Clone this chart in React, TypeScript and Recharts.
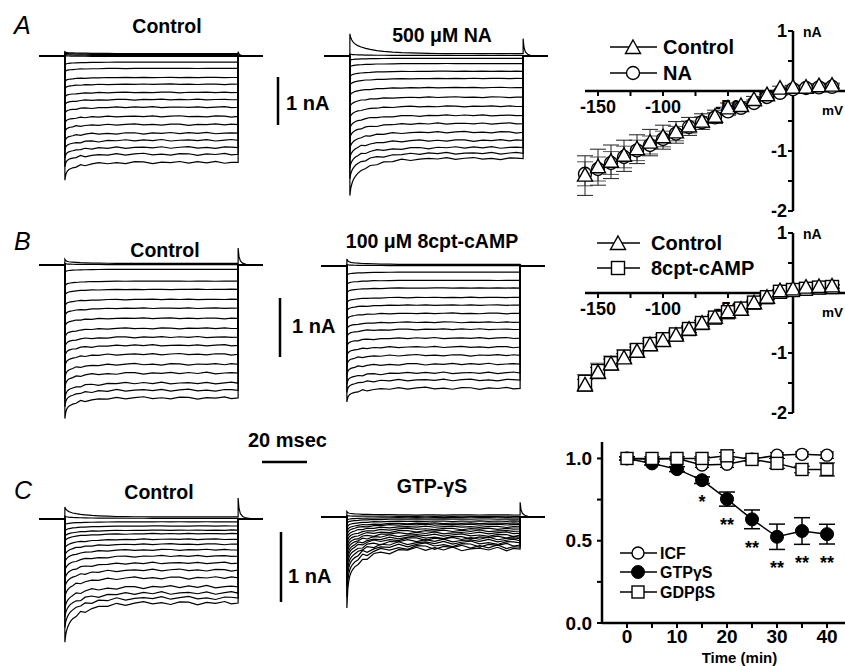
import React from 'react';
import { LineChart, Line, XAxis, YAxis, ErrorBar, ReferenceLine, ReferenceDot, LabelList } from 'recharts';

const FONT = 'Arial, "Liberation Sans", Helvetica, sans-serif';

// ---------- whole-cell current traces (nA, inward negative) ----------
// sample times during the voltage step (ms after onset)
const pulseTimes = [0, 0.4, 0.8, 1.2, 1.8, 2.5, 3.5, 5, 7, 9, 12, 15, 19, 23, 27, 31, 35, 39, 43, 47, 51, 55, 59, 63, 67, 71, 74, 77];
// relaxation from onset peak to steady level
const decayFast = [1, 0.68, 0.55, 0.47, 0.4, 0.35, 0.3, 0.24, 0.18, 0.14, 0.1, 0.07, 0.04, 0.02, 0.01, 0, 0, 0, 0, 0, 0, 0, 0, 0, 0, 0, 0, 0];
const decaySlow = [1, 0.8, 0.7, 0.62, 0.54, 0.47, 0.4, 0.33, 0.26, 0.21, 0.15, 0.11, 0.07, 0.045, 0.03, 0.02, 0.01, 0, 0, 0, 0, 0, 0, 0, 0, 0, 0, 0];
// recording noise (relative), applied after the first 5 ms
const traceRipple = [0.3, -0.2, 0.5, -0.4, 0.2, 0.6, -0.3, 0.1, -0.5, 0.4, 0.3, -0.6, 0.2, -0.1, 0.5, -0.3, 0.4, -0.2, 0.6, -0.4, 0.1];
// capacitive tail at the end of the step
const tailTimes = [77, 77.4, 78, 79, 80.5, 82.5, 85, 88];
const tailShape = [1, 0.5, 0.25, 0.12, 0.05, 0.02, 0, 0];

const aCtrlSteady = [0.06, 0.04, 0.02, 0, -0.12, -0.25, -0.44, -0.58, -0.75, -0.9, -1.06, -1.25, -1.42, -1.6, -1.75, -1.9, -2.04, -2.21];
const aCtrlPeak = [0.1, 0.08, 0.05, 0.02, -0.18, -0.33, -0.53, -0.68, -0.86, -1.02, -1.2, -1.4, -1.58, -1.78, -1.95, -2.12, -2.3, -2.58];
const aNaSteady = [0.06, 0.02, -0.04, -0.15, -0.31, -0.46, -0.65, -0.85, -1.04, -1.23, -1.4, -1.58, -1.75, -1.9, -2.02, -2.13];
const aNaPeak = [0.47, 0.05, -0.08, -0.22, -0.42, -0.6, -0.82, -1.05, -1.28, -1.5, -1.7, -1.92, -2.12, -2.32, -2.55, -2.9];
const bCtrlSteady = [0.03, 0.01, -0.07, -0.27, -0.41, -0.58, -0.73, -0.9, -1.07, -1.22, -1.36, -1.51, -1.68, -1.83, -2.0, -2.12, -2.25];
const bCtrlPeak = [0.1, 0.03, -0.12, -0.36, -0.52, -0.7, -0.87, -1.05, -1.24, -1.4, -1.56, -1.73, -1.92, -2.08, -2.27, -2.4, -2.6];
const bCampSteady = [0.03, 0.01, -0.1, -0.24, -0.37, -0.53, -0.66, -0.8, -0.95, -1.07, -1.22, -1.37, -1.51, -1.66, -1.81, -1.93, -2.07];
const bCampPeak = [0.12, 0.03, -0.16, -0.32, -0.46, -0.63, -0.77, -0.92, -1.08, -1.21, -1.37, -1.53, -1.68, -1.84, -2.0, -2.14, -2.3];
const cCtrlSteady = [0.03, 0.01, -0.04, -0.1, -0.16, -0.21, -0.29, -0.36, -0.44, -0.53, -0.63, -0.73, -0.84, -0.97, -1.06, -1.13, -1.2];
const cCtrlPeak = [0.17, 0.04, -0.08, -0.17, -0.25, -0.32, -0.42, -0.52, -0.62, -0.74, -0.86, -0.98, -1.12, -1.28, -1.4, -1.55, -1.76];
const cGtpSteady = [0.03, 0.01, -0.01, -0.03, -0.06, -0.09, -0.11, -0.14, -0.17, -0.2, -0.23, -0.26, -0.29, -0.31, -0.34, -0.37, -0.4, -0.43, -0.46];
const cGtpPeak = [0.08, 0.02, -0.05, -0.1, -0.16, -0.22, -0.28, -0.34, -0.4, -0.46, -0.52, -0.58, -0.65, -0.72, -0.8, -0.9, -1.0, -1.14, -1.3];

// ---------- I-V relations ----------
const ivVoltages = [-160, -150, -140, -130, -120, -110, -100, -90, -80, -70, -60, -50, -40, -30, -20, -10, 0, 10, 20, 30];
const ivACtrl = [-1.41, -1.27, -1.18, -1.08, -0.97, -0.86, -0.77, -0.69, -0.59, -0.51, -0.43, -0.29, -0.25, -0.15, -0.07, 0.04, 0.055, 0.055, 0.08, 0.09];
const ivACtrlErr = [0.33, 0.3, 0.28, 0.26, 0.24, 0.22, 0.2, 0.18, 0.15, 0.13, 0.11, 0.09, 0.07, 0.06, 0.05, 0.04, 0.04, 0.04, 0.04, 0.04];
const ivANa = [-1.38, -1.3, -1.2, -1.1, -0.99, -0.9, -0.8, -0.71, -0.6, -0.52, -0.44, -0.34, -0.28, -0.2, -0.1, -0.03, 0.03, 0.05, 0.06, 0.07];
const ivANaErr = [0.2, 0.2, 0.19, 0.18, 0.17, 0.15, 0.13, 0.12, 0.1, 0.09, 0.08, 0.07, 0.06, 0.05, 0.04, 0.04, 0.03, 0.03, 0.03, 0.03];
const ivBCtrl = [-1.54, -1.33, -1.19, -1.09, -0.98, -0.87, -0.8, -0.71, -0.61, -0.51, -0.41, -0.32, -0.28, -0.17, -0.08, 0.03, 0.06, 0.09, 0.1, 0.11];
const ivBCtrlErr = [0.1, 0.09, 0.09, 0.08, 0.08, 0.07, 0.07, 0.06, 0.05, 0.05, 0.04, 0.04, 0.04, 0.03, 0.03, 0.03, 0.03, 0.03, 0.03, 0.03];
const ivBCamp = [-1.48, -1.3, -1.17, -1.06, -0.95, -0.85, -0.77, -0.69, -0.6, -0.5, -0.41, -0.32, -0.26, -0.16, -0.07, 0.02, 0.05, 0.07, 0.09, 0.1];
const ivBCampErr = [0.12, 0.13, 0.12, 0.11, 0.1, 0.09, 0.08, 0.07, 0.06, 0.05, 0.05, 0.04, 0.04, 0.04, 0.03, 0.03, 0.03, 0.03, 0.03, 0.03];
const ivXTicks = [-150, -125, -100, -75, -50, -25];
const ivXLabels = [-150, -100, -50];
const ivYTicks = [1, 0.5, -0.5, -1, -1.5, -2];
const ivYLabels = [1, -1, -2];

// ---------- time course ----------
const timeMinutes = [0, 5, 10, 15, 20, 25, 30, 35, 40];
const icfValues = [1.0, 0.995, 1.0, 0.96, 0.965, 0.995, 1.02, 1.025, 1.02];
const icfErr = [0.01, 0.01, 0.01, 0.015, 0.02, 0.01, 0.015, 0.015, 0.02];
const gtpValues = [1.0, 0.97, 0.935, 0.868, 0.753, 0.63, 0.524, 0.559, 0.54];
const gtpErr = [0.01, 0.01, 0.015, 0.02, 0.043, 0.057, 0.077, 0.081, 0.06];
const gdpValues = [1.0, 1.0, 1.0, 1.0, 1.016, 0.994, 0.97, 0.933, 0.933];
const gdpErr = [0.01, 0.01, 0.01, 0.01, 0.02, 0.01, 0.03, 0.02, 0.04];
const gtpStars = ['', '', '', '*', '**', '**', '**', '**', '**'];
const timeXTicks = [0, 5, 10, 15, 20, 25, 30, 35, 40, 45];
const timeXLabels = [0, 10, 20, 30, 40];
const timeYTicks = [0, 0.25, 0.5, 0.75, 1.0];
const timeYLabels = [0, 0.5, 1.0];

type TraceSet = { steady: number[]; peak: number[]; decay: number[]; endSpike: number; noise: number };

function buildTraceRows(p: TraceSet) {
  const keys = p.steady.map((_, i) => `tr${i}`);
  const rows: Record<string, number>[] = [];
  const push = (t: number, f: (i: number) => number) => {
    const r: Record<string, number> = { t };
    keys.forEach((k, i) => (r[k] = f(i)));
    rows.push(r);
  };
  push(-11.5, () => 0);
  push(0, () => 0);
  pulseTimes.forEach((t, k) =>
    push(t, (i) => {
      const s = p.steady[i];
      let v = s + (p.peak[i] - s) * p.decay[k];
      if (k >= 7 && k < pulseTimes.length - 1) v += traceRipple[(k - 7 + 5 * i) % traceRipple.length] * p.noise * Math.abs(s);
      return v;
    })
  );
  tailTimes.forEach((t, k) => push(t, (i) => (i === 0 ? p.endSpike * tailShape[k] : 0)));
  return { rows, keys };
}

const PX_PER_MS = 2.25;

function TracePanel({ set, x, base, scale, lo }: { set: TraceSet; x: number; base: number; scale: number; lo: number }) {
  const { rows, keys } = buildTraceRows(set);
  const hi = 0.8;
  return (
    <div style={{ position: 'absolute', left: x, top: base - hi * scale }}>
      <LineChart width={99.5 * PX_PER_MS} height={(hi - lo) * scale} data={rows} margin={{ top: 0, right: 0, bottom: 0, left: 0 }}>
        <XAxis dataKey="t" type="number" domain={[-11.5, 88]} hide />
        <YAxis type="number" domain={[lo, hi]} hide />
        {keys.map((k) => (
          <Line key={k} dataKey={k} type="linear" stroke="#000" strokeWidth={1.2} dot={false} activeDot={false} isAnimationActive={false} />
        ))}
      </LineChart>
    </div>
  );
}

const triangle = (cx: number, cy: number, key?: any) => (
  <path key={key} d={`M${cx},${cy - 8} L${cx + 7.5},${cy + 5.5} L${cx - 7.5},${cy + 5.5} Z`} fill="#fff" stroke="#000" strokeWidth={1.4} />
);
const openCircle = (cx: number, cy: number, key?: any, r = 6.5) => (
  <circle key={key} cx={cx} cy={cy} r={r} fill="#fff" stroke="#000" strokeWidth={1.4} />
);
const filledCircle = (cx: number, cy: number, key?: any) => <circle key={key} cx={cx} cy={cy} r={6.5} fill="#000" stroke="#000" />;
const square = (cx: number, cy: number, key?: any, s = 13) => (
  <rect key={key} x={cx - s / 2} y={cy - s / 2} width={s} height={s} fill="#fff" stroke="#000" strokeWidth={1.4} />
);

const markers: Record<string, (cx: number, cy: number, key?: any) => React.ReactElement> = {
  triangle,
  circle: (cx, cy, key) => openCircle(cx, cy, key),
  square: (cx, cy, key) => square(cx, cy, key, 13),
};

function IvChart({ ctrl, ctrlErr, drug, drugErr, drugMarker, plotTop }: any) {
  const rows = ivVoltages.map((v, i) => ({ v, ctrl: ctrl[i], ctrlErr: ctrlErr[i], drug: drug[i], drugErr: drugErr[i] }));
  const mL = 15, mT = 15, mB = 15, plotW = 260, plotH = 180;
  const bold = { fontFamily: FONT, fontWeight: 700, fill: '#000' } as const;
  const drugDot = (p: any) => markers[drugMarker](p.cx, p.cy, `d${p.index}`);
  const ctrlDot = (p: any) => triangle(p.cx, p.cy, `c${p.index}`);
  return (
    <div style={{ position: 'absolute', left: 585 - mL, top: plotTop - mT }}>
      <LineChart width={plotW + mL} height={plotH + mT + mB} data={rows} margin={{ top: mT, right: 0, bottom: mB, left: mL }}>
        <XAxis dataKey="v" type="number" domain={[-160, 40]} hide />
        <YAxis type="number" domain={[-2, 1]} hide />
        <ReferenceLine y={0} stroke="#000" strokeWidth={2.5} />
        <ReferenceLine x={0} stroke="#000" strokeWidth={2.5} />
        {ivXTicks.map((v) => (
          <ReferenceDot
            key={`xt${v}`}
            x={v}
            y={0}
            r={0}
            shape={(p: any) => (
              <g>
                <line x1={p.cx} y1={p.cy} x2={p.cx} y2={p.cy + 5} stroke="#000" strokeWidth={2} />
                {ivXLabels.includes(v) && (
                  <text x={p.cx} y={p.cy + 22} textAnchor="middle" fontSize={18} {...bold}>
                    {v}
                  </text>
                )}
              </g>
            )}
          />
        ))}
        {ivYTicks.map((v) => (
          <ReferenceDot
            key={`yt${v}`}
            x={0}
            y={v}
            r={0}
            shape={(p: any) => (
              <g>
                <line x1={p.cx - 5} y1={p.cy} x2={p.cx} y2={p.cy} stroke="#000" strokeWidth={2} />
                {ivYLabels.includes(v) && (
                  <text x={p.cx - 6} y={p.cy + 6} textAnchor="end" fontSize={18} {...bold}>
                    {v}
                  </text>
                )}
              </g>
            )}
          />
        ))}
        <ReferenceDot
          x={0}
          y={1}
          r={0}
          shape={(p: any) => (
            <text x={p.cx + 10} y={p.cy + 6} fontSize={14} {...bold}>
              nA
            </text>
          )}
        />
        <ReferenceDot
          x={30}
          y={0}
          r={0}
          shape={(p: any) => (
            <text x={p.cx - 10} y={p.cy + 24} fontSize={13.5} {...bold}>
              mV
            </text>
          )}
        />
        <Line dataKey="drug" type="linear" stroke="#000" strokeWidth={1.4} dot={drugDot} activeDot={false} isAnimationActive={false}>
          <ErrorBar dataKey="drugErr" direction="y" width={8} stroke="#555" strokeWidth={1} />
        </Line>
        <Line dataKey="ctrl" type="linear" stroke="#000" strokeWidth={1.4} dot={ctrlDot} activeDot={false} isAnimationActive={false}>
          <ErrorBar dataKey="ctrlErr" direction="y" width={8} stroke="#222" strokeWidth={1} />
        </Line>
      </LineChart>
    </div>
  );
}

function TimeChart() {
  const rows = timeMinutes.map((t, i) => ({
    t,
    icf: icfValues[i],
    icfErr: icfErr[i],
    gtp: gtpValues[i],
    gtpErr: gtpErr[i],
    gdp: gdpValues[i],
    gdpErr: gdpErr[i],
    starAnchor: gtpValues[i] - gtpErr[i],
    star: gtpStars[i],
  }));
  const tickStyle = { fontSize: 19, fontWeight: 700, fill: '#000', fontFamily: FONT };
  const axisLine = { stroke: '#000', strokeWidth: 2.5 };
  const tickLine = { stroke: '#000', strokeWidth: 2 };
  const renderStar = (p: any) =>
    p.value ? (
      <text x={p.x} y={p.y + 25} textAnchor="middle" fontSize={18} fontWeight={700} fontFamily={FONT} fill="#000">
        {p.value}
      </text>
    ) : null;
  return (
    <div style={{ position: 'absolute', left: 554, top: 437 }}>
      <LineChart width={323} height={229} data={rows} margin={{ top: 5, right: 0, bottom: 0, left: 0 }}>
        <XAxis
          dataKey="t"
          type="number"
          domain={[-5, 50]}
          ticks={timeXTicks}
          tickFormatter={(v: number) => (timeXLabels.includes(v) ? String(v) : '')}
          tick={tickStyle}
          tickSize={5}
          tickMargin={2}
          axisLine={axisLine}
          tickLine={tickLine}
          height={43}
          label={{ value: 'Time (min)', position: 'insideBottom', offset: 3, style: { fontSize: 15, fontWeight: 700, fill: '#000', fontFamily: FONT } }}
        />
        <YAxis
          type="number"
          domain={[0, 1.1]}
          ticks={timeYTicks}
          tickFormatter={(v: number) => (timeYLabels.includes(v) ? v.toFixed(1) : '')}
          tick={tickStyle}
          tickSize={5}
          tickMargin={5}
          axisLine={axisLine}
          tickLine={tickLine}
          width={48}
        />
        <Line dataKey="starAnchor" stroke="none" dot={false} activeDot={false} isAnimationActive={false}>
          <LabelList dataKey="star" content={renderStar} />
        </Line>
        <Line dataKey="gtp" type="linear" stroke="#000" strokeWidth={1.5} dot={(p: any) => filledCircle(p.cx, p.cy, `g${p.index}`)} activeDot={false} isAnimationActive={false}>
          <ErrorBar dataKey="gtpErr" direction="y" width={8} stroke="#000" strokeWidth={1.5} />
        </Line>
        <Line dataKey="icf" type="linear" stroke="#000" strokeWidth={1.5} dot={(p: any) => openCircle(p.cx, p.cy, `i${p.index}`, 6)} activeDot={false} isAnimationActive={false}>
          <ErrorBar dataKey="icfErr" direction="y" width={7} stroke="#000" strokeWidth={1} />
        </Line>
        <Line dataKey="gdp" type="linear" stroke="#000" strokeWidth={1.5} dot={(p: any) => square(p.cx, p.cy, `s${p.index}`, 12)} activeDot={false} isAnimationActive={false}>
          <ErrorBar dataKey="gdpErr" direction="y" width={8} stroke="#000" strokeWidth={1} />
        </Line>
      </LineChart>
    </div>
  );
}

function Overlay() {
  const b = { fontFamily: FONT, fontWeight: 700, fill: '#000' } as const;
  const letter = { fontFamily: FONT, fontStyle: 'italic', fontSize: 25, fill: '#000' } as const;
  const legendRow = (x1: number, x2: number, y: number, mark: React.ReactElement, text: string, tx: number, fs: number) => (
    <g>
      <line x1={x1} y1={y} x2={x2} y2={y} stroke="#000" strokeWidth={1.5} />
      {mark}
      <text x={tx} y={y + fs * 0.36} fontSize={fs} {...b}>
        {text}
      </text>
    </g>
  );
  return (
    <svg width={845} height={666} style={{ position: 'absolute', left: 0, top: 0 }}>
      <text x={14} y={34} {...letter}>A</text>
      <text x={14} y={250} {...letter}>B</text>
      <text x={14} y={499} {...letter}>C</text>

      <text x={167} y={33} textAnchor="middle" fontSize={19.5} {...b}>Control</text>
      <text x={442} y={42} textAnchor="middle" fontSize={19.5} {...b}>500 μM NA</text>
      <text x={165} y={257} textAnchor="middle" fontSize={19.5} {...b}>Control</text>
      <text x={432} y={248} textAnchor="middle" fontSize={19.5} {...b}>100 μM 8cpt-cAMP</text>
      <text x={159} y={499} textAnchor="middle" fontSize={19.5} {...b}>Control</text>
      <text x={432} y={493} textAnchor="middle" fontSize={19.5} {...b}>GTP-γS</text>

      <line x1={278} y1={77} x2={278} y2={125} stroke="#000" strokeWidth={2.5} />
      <text x={286} y={110} fontSize={20} {...b}>1 nA</text>
      <line x1={280} y1={298} x2={280} y2={357} stroke="#000" strokeWidth={2.5} />
      <text x={292} y={333} fontSize={20} {...b}>1 nA</text>
      <line x1={281} y1={532} x2={281} y2={602} stroke="#000" strokeWidth={2.5} />
      <text x={288} y={583} fontSize={20} {...b}>1 nA</text>
      <text x={248} y={447} fontSize={20} {...b}>20 msec</text>
      <line x1={262} y1={462} x2={307} y2={462} stroke="#000" strokeWidth={2.5} />

      {legendRow(610, 657, 47, triangle(633, 48), 'Control', 663, 20)}
      {legendRow(610, 657, 73, openCircle(633, 73), 'NA', 663, 20)}
      {legendRow(597, 640, 243, triangle(618, 244), 'Control', 651, 20)}
      {legendRow(597, 640, 268, square(618, 268), '8cpt-cAMP', 651, 20)}

      {legendRow(620, 657, 553, openCircle(638, 553, undefined, 6), 'ICF', 660, 16)}
      {legendRow(620, 657, 572, filledCircle(638, 572), 'GTPγS', 660, 16)}
      {legendRow(620, 657, 592, square(638, 592, undefined, 12), 'GDPβS', 660, 16)}
    </svg>
  );
}

export default function App() {
  return (
    <div style={{ position: 'absolute', left: 0, top: 0, width: 845, height: 666, overflow: 'hidden', background: '#fff' }}>
      <TracePanel set={{ steady: aCtrlSteady, peak: aCtrlPeak, decay: decayFast, endSpike: 0.1, noise: 0.018 }} x={39} base={56} scale={48} lo={-3} />
      <TracePanel set={{ steady: aNaSteady, peak: aNaPeak, decay: decaySlow, endSpike: 0.37, noise: 0.018 }} x={324} base={56} scale={48} lo={-3} />
      <TracePanel set={{ steady: bCtrlSteady, peak: bCtrlPeak, decay: decayFast, endSpike: 0.29, noise: 0.015 }} x={39} base={265} scale={59} lo={-2.8} />
      <TracePanel set={{ steady: bCampSteady, peak: bCampPeak, decay: decayFast, endSpike: 0.03, noise: 0.015 }} x={321} base={266} scale={59} lo={-2.8} />
      <TracePanel set={{ steady: cCtrlSteady, peak: cCtrlPeak, decay: decaySlow, endSpike: 0.3, noise: 0.035 }} x={39} base={519} scale={70} lo={-1.95} />
      <TracePanel set={{ steady: cGtpSteady, peak: cGtpPeak, decay: decayFast, endSpike: 0.21, noise: 0.12 }} x={321} base={517} scale={70} lo={-1.95} />

      <IvChart ctrl={ivACtrl} ctrlErr={ivACtrlErr} drug={ivANa} drugErr={ivANaErr} drugMarker="circle" plotTop={31} />
      <IvChart ctrl={ivBCtrl} ctrlErr={ivBCtrlErr} drug={ivBCamp} drugErr={ivBCampErr} drugMarker="square" plotTop={233} />
      <TimeChart />
      <Overlay />
    </div>
  );
}
